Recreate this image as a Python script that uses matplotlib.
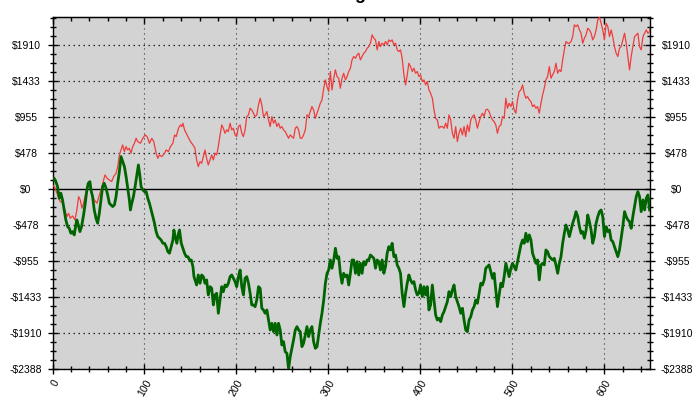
import matplotlib
matplotlib.use("Agg")
import matplotlib.pyplot as plt
from matplotlib.ticker import FixedLocator, MultipleLocator, FuncFormatter, NullFormatter
import numpy as np

# ---------------- data ----------------
red_x = [0.0,2.5,5.5,8.4,10.9,13.5,15.6,17.5,19.3,21.8,24.4,26.5,28.4,30.2,32.0,33.8,35.3,37.4,38.9,41.1,
         43.6,45.4,48.4,50.9,53.4,55.6,57.1,59.3,61.8,64.3,66.5,69.1,70.9,72.7,74.5,76.3,78.2,80.0,81.8,83.6,
         85.4,87.2,89.1,90.9,92.7,95.6,98.2,100.7,102.9,105.4,108.0,110.1,112.7,114.5,116.3,118.9,121.8,123.6,126.1,128.3,
         130.9,132.7,134.5,137.0,139.2,140.7,141.8,143.6,145.4,147.2,150.1,152.7,
         154.9,156.7,158.5,160.4,162.2,164.0,165.8,167.6,169.4,171.3,173.1,174.9,176.7,178.5,180.3,182.2,184.0,185.8,187.6,189.4,
         191.2,193.1,194.9,196.7,198.5,200.3,202.2,204.0,205.8,207.6,209.4,211.2,213.1,214.9,216.7,218.5,220.3,222.1,224.0,225.8,
         227.6,229.4,231.2,233.1,234.9,236.7,238.5,240.3,242.1,244.0,245.8,247.6,249.4,251.2,253.0,254.9,256.7,258.5,260.3,262.1,
         264.0,265.8,267.6,269.4,271.2,273.0,274.9,276.7,278.5,280.3,282.1,283.9,285.8,287.6,289.4,291.2,293.0,294.9,296.7,298.5,
         300.3,302.1,303.9,305.8,307.6,309.4,311.2,
         313.0,314.8,316.6,318.5,320.3,322.1,323.9,325.7,327.5,329.4,331.2,333.0,334.8,336.6,338.4,340.3,342.1,343.9,345.7,347.5,
         349.4,351.2,353.0,354.8,356.6,358.4,360.3,362.1,363.9,365.7,367.5,369.3,371.2,373.0,374.8,376.6,378.4,380.2,382.1,383.9,
         385.7,387.5,389.3,391.2,393.0,394.8,396.6,398.4,400.2,402.1,403.9,405.7,407.5,409.3,411.1,413.0,414.8,416.6,418.4,420.2,
         422.1,423.9,425.7,427.5,429.3,431.1,433.0,434.8,436.6,438.4,440.2,442.0,443.9,445.7,447.5,449.3,451.1,453.0,454.8,456.6,
         458.4,460.2,462.0,463.9,465.7,467.5,469.3,
         471.1,472.9,474.7,476.6,478.4,480.2,482.0,483.8,485.6,487.5,489.3,491.1,492.9,494.7,496.5,498.4,500.2,502.0,503.8,505.6,
         507.4,509.3,511.1,512.9,514.7,516.5,518.4,520.2,522.0,523.8,525.6,527.4,529.3,531.1,532.9,534.7,536.5,538.3,540.2,542.0,
         543.8,545.6,547.4,549.3,551.1,552.9,554.7,556.5,558.3,560.2,562.0,563.8,565.6,567.4,569.2,571.1,572.9,574.7,576.5,578.3,
         580.2,582.0,583.8,585.6,587.4,589.2,591.1,592.9,594.7,596.5,598.3,600.1,602.0,603.8,605.6,607.4,609.2,611.0,612.9,614.7,
         616.5,618.3,620.1,622.0,623.8,625.6,627.4,629.2,631.0,632.9,634.7,636.5,638.3,640.1,642.0,643.8,645.6,647.4,649.2,650.0]
red_v = [53,22,-80,-168,-181,-279,-367,-323,-389,-358,-411,-279,-102,-146,-256,-190,-102,9,53,9,
         -102,-146,-190,-80,9,119,186,142,119,97,164,208,296,451,517,584,495,562,517,539,
         473,562,606,672,628,606,672,716,694,606,672,628,473,407,451,429,473,517,495,562,
         606,716,694,805,849,827,871,783,738,694,628,584,
         539,385,296,363,340,429,517,407,318,385,451,385,473,451,562,716,849,805,738,783,
         761,871,783,805,716,694,827,849,738,694,783,960,982,1070,1048,1004,960,982,1114,1203,
         1114,960,982,1026,915,827,960,871,915,827,871,805,827,783,761,716,672,716,694,672,
         805,827,783,672,672,716,783,982,960,1026,1092,1048,937,1004,1070,1136,1181,1335,1446,1358,
         1291,1557,1313,1468,1579,1490,1468,
         1335,1468,1534,1446,1490,1557,1601,1711,1756,1733,1778,1800,1711,1756,1800,1822,1866,1888,1932,2043,
         1999,1977,1844,1955,1888,1932,1910,1955,1910,1977,1955,1977,1910,1932,1844,1822,1844,1733,1512,1380,
         1512,1667,1623,1557,1601,1534,1557,1490,1512,1424,1446,1380,1424,1313,1269,1203,1048,937,915,805,
         827,827,805,871,805,982,915,738,672,827,628,738,805,716,827,694,849,761,915,960,
         982,915,805,893,960,1004,960,
         1048,1057,1026,960,915,893,849,738,827,849,960,937,1203,1070,1136,1092,1159,1048,1004,1181,
         1291,1313,1380,1269,1203,1225,1181,1159,1092,1114,1070,1092,1004,1136,1247,1335,1446,1490,1623,1468,
         1512,1557,1667,1534,1579,1557,1711,1844,1955,1932,1932,1955,2021,2176,2154,2176,2109,2065,1932,1999,
         2043,2131,2109,2065,1977,2021,2109,2242,2280,2198,2109,1977,2198,2154,2021,2109,2021,1888,1800,1756,
         1866,1888,1977,2065,1932,1756,1579,1756,1888,2021,2043,2065,1888,1844,2021,2065,2109,2065,2087,2131]

green_x = [0.0,1.8,3.6,5.5,7.3,9.1,10.9,12.7,14.5,16.4,18.2,20.0,21.8,23.6,25.4,26.5,28.0,29.8,31.6,33.8,
           35.6,37.4,38.9,40.7,41.8,43.6,45.4,47.3,49.1,50.9,52.7,54.5,56.3,58.2,60.0,61.8,63.6,65.4,67.3,69.1,
           70.9,72.7,74.5,76.3,78.2,80.0,81.8,83.6,84.7,86.2,88.0,89.8,92.0,93.4,94.9,96.3,98.2,100.0,101.8,103.6,
           105.4,107.2,109.1,110.9,112.7,114.5,116.3,118.1,120.0,121.8,123.6,125.4,127.2,129.0,130.9,132.0,133.4,135.2,137.0,138.1,
           140.0,141.8,143.6,145.4,147.2,149.0,150.9,152.7,153.8,
           154.9,156.7,158.5,160.4,162.2,164.0,165.8,167.6,169.4,171.3,173.1,174.9,176.7,178.5,180.3,182.2,184.0,185.8,187.6,189.4,
           191.2,193.1,194.9,196.7,198.5,200.3,202.2,204.0,205.8,207.6,209.4,211.2,213.1,214.9,216.7,218.5,220.3,222.1,224.0,225.8,
           227.6,229.4,231.2,233.1,234.9,236.7,238.5,240.3,242.1,244.0,245.8,247.6,249.4,251.2,253.0,254.9,256.7,258.5,260.3,262.1,
           264.0,265.8,267.6,269.4,271.2,273.0,274.9,276.7,278.5,280.3,282.1,283.9,285.8,287.6,289.4,291.2,293.0,294.9,296.7,298.5,
           300.3,302.1,303.9,305.8,307.6,309.4,311.2,
           313.0,314.8,316.6,318.5,320.3,322.1,323.9,325.7,327.5,329.4,331.2,333.0,334.8,336.6,338.4,340.3,342.1,343.9,345.7,347.5,
           349.4,351.2,353.0,354.8,356.6,358.4,360.3,362.1,363.9,365.7,367.5,369.3,371.2,373.0,374.8,376.6,378.4,380.2,382.1,383.9,
           385.7,387.5,389.3,391.2,393.0,394.8,396.6,398.4,400.2,402.1,403.9,405.7,407.5,409.3,411.1,413.0,414.8,416.6,418.4,420.2,
           422.1,423.9,425.7,427.5,429.3,431.1,433.0,434.8,436.6,438.4,440.2,442.0,443.9,445.7,447.5,449.3,451.1,453.0,454.8,456.6,
           458.4,460.2,462.0,463.9,465.7,467.5,469.3,
           471.1,472.9,474.7,476.6,478.4,480.2,482.0,483.8,485.6,487.5,489.3,491.1,492.9,494.7,496.5,498.4,500.2,502.0,503.8,505.6,
           507.4,509.3,511.1,512.9,514.7,516.5,518.4,520.2,522.0,523.8,525.6,527.4,529.3,531.1,532.9,534.7,536.5,538.3,540.2,542.0,
           543.8,545.6,547.4,549.3,551.1,552.9,554.7,556.5,558.3,560.2,562.0,563.8,565.6,567.4,569.2,571.1,572.9,574.7,576.5,578.3,
           580.2,582.0,583.8,585.6,587.4,589.2,591.1,592.9,594.7,596.5,598.3,600.1,602.0,603.8,605.6,607.4,609.2,611.0,612.9,614.7,
           616.5,618.3,620.1,622.0,623.8,625.6,627.4,629.2,631.0,632.9,634.7,636.5,638.3,640.1,642.0,643.8,645.6,647.4,649.2]
green_v = [119,142,97,31,-124,-57,-146,-279,-411,-500,-522,-588,-566,-610,-478,-411,-478,-566,-500,-345,
           -190,-13,75,97,-13,-102,-279,-389,-455,-323,-146,31,75,9,-80,-190,-212,-234,-212,-102,
           75,230,429,363,296,164,9,-146,-279,-190,-102,31,208,318,186,31,-13,-35,-35,-124,
           -190,-279,-367,-455,-566,-632,-654,-677,-721,-721,-765,-831,-853,-765,-677,-544,-632,-721,-588,-544,
           -721,-787,-853,-898,-898,-942,-942,-1031,-1163,
           -1207,-1274,-1141,-1251,-1141,-1163,-1251,-1207,-1406,-1296,-1318,-1539,-1406,-1384,-1649,-1473,-1296,-1362,-1274,-1296,
           -1251,-1163,-1141,-1185,-1229,-1296,-1163,-1075,-1296,-1406,-1185,-1163,-1251,-1384,-1539,-1539,-1561,-1473,-1296,-1318,
           -1583,-1605,-1649,-1605,-1738,-1871,-1782,-1893,-1782,-1937,-1782,-1871,-2070,-2025,-2158,-2180,-2388,-2224,-2114,-2003,
           -1871,-1826,-1871,-1893,-2092,-2047,-1937,-1826,-1959,-1871,-1826,-2025,-2114,-2092,-1937,-1782,-1649,-1473,-1251,-1119,
           -1075,-942,-1052,-942,-787,-920,-898,
           -1119,-1251,-1119,-1163,-1141,-1274,-1119,-942,-942,-1119,-964,-1141,-986,-1119,-964,-1008,-942,-942,-876,-898,
           -920,-1052,-942,-964,-1075,-942,-1119,-1030,-853,-765,-809,-721,-898,-876,-1008,-1052,-1119,-1384,-1561,-1384,
           -1251,-1141,-1207,-1251,-1229,-1340,-1406,-1384,-1274,-1428,-1296,-1406,-1296,-1605,-1539,-1274,-1473,-1672,-1738,-1716,
           -1760,-1672,-1627,-1561,-1495,-1362,-1428,-1340,-1274,-1428,-1495,-1561,-1649,-1583,-1738,-1871,-1893,-1738,-1694,-1605,
           -1561,-1473,-1517,-1384,-1251,-1274,-1207,
           -1052,-1030,-1008,-1097,-1185,-1119,-1340,-1561,-1406,-1251,-1296,-1163,-986,-1075,-1163,-1052,-986,-1030,-1075,-964,
           -853,-743,-677,-721,-588,-699,-610,-677,-853,-920,-986,-942,-1207,-1008,-986,-1008,-809,-831,-898,-920,
           -942,-920,-1008,-1119,-986,-898,-721,-588,-478,-544,-632,-544,-455,-389,-301,-367,-500,-588,-566,-654,
           -544,-345,-433,-544,-721,-632,-455,-367,-301,-279,-367,-632,-500,-566,-544,-677,-699,-765,-831,-898,
           -809,-654,-500,-301,-367,-411,-433,-522,-367,-234,-102,-35,-102,-301,-146,-279,-124,-80,-279]

x_ticks = [0, 100, 200, 300, 400, 500, 600]
y_ticks = [-2388, -1910.4, -1432.8, -955.2, -477.6, 0, 477.6, 955.2, 1432.8, 1910.4]
y_min, y_max = -2388, 2280
x_min, x_max = 0, 650
title_visible = "g"

# ---------------- figure ----------------
plt.rcParams['font.family'] = ['Liberation Sans', 'DejaVu Sans']
fig = plt.figure(figsize=(7.0, 4.08), dpi=100)
fig.patch.set_facecolor('white')
ax = fig.add_axes([0.075, 0.0956, 0.854, 0.8627])
ax.set_facecolor('#d3d3d3')

ax.set_xlim(x_min, x_max)
ax.set_ylim(y_min, y_max)

# grid
for yt in y_ticks:
    if yt == 0:
        continue
    ax.axhline(yt, color='#222222', lw=0.9, ls=(0, (1.2, 2.8)), zorder=1)
for xt in x_ticks[1:]:
    ax.axvline(xt, color='#333333', lw=0.8, ls=(0, (1, 3.5)), zorder=1)
ax.axhline(0, color='black', lw=1.0, zorder=2)

ax.plot(red_x, red_v, color='#f03c3c', lw=0.9, zorder=3)
ax.plot(green_x, green_v, color='#006400', lw=2.0, zorder=4)

def fmt(v, pos=None):
    r = int(round(abs(v)))
    return ("-$%d" % r) if v < -0.5 else ("$%d" % r)

ax.yaxis.set_major_locator(FixedLocator(y_ticks))
ax.yaxis.set_major_formatter(FuncFormatter(fmt))
ax.yaxis.set_minor_locator(MultipleLocator(119.4))
ax.xaxis.set_major_locator(FixedLocator(x_ticks))
ax.xaxis.set_minor_locator(MultipleLocator(20))

ax.tick_params(which='both', direction='inout', right=True,
               labelright=True, labelleft=True, labelsize=7.5, colors='black',
               width=1.0)
ax.tick_params(which='major', length=7)
ax.tick_params(which='minor', length=5)
ax.tick_params(axis='x', which='major', pad=3)
ax.tick_params(axis='y', which='major', pad=15.6)
ax.tick_params(axis='x', which='both', top=False)

for lab in ax.get_xticklabels():
    lab.set_rotation(60)
    lab.set_ha('right')
    lab.set_va('top')
    lab.set_rotation_mode('anchor')
for t in ax.yaxis.get_major_ticks():
    t.label1.set_ha('center')
    t.label2.set_ha('center')

# ticks along the top edge, pointing inward
sec = ax.secondary_xaxis('top')
sec.xaxis.set_major_locator(FixedLocator(x_ticks))
sec.xaxis.set_minor_locator(MultipleLocator(20))
sec.xaxis.set_major_formatter(NullFormatter())
sec.tick_params(which='both', direction='in', labeltop=False, width=1.0)
sec.tick_params(which='major', length=5)
sec.tick_params(which='minor', length=3)

for s in ax.spines.values():
    s.set_color('black')
    s.set_linewidth(1.0)

fig.text(0.514, 1.0025, title_visible, ha='center', va='baseline',
         fontsize=13, fontweight='bold')

fig.savefig('out.png', dpi=100)
